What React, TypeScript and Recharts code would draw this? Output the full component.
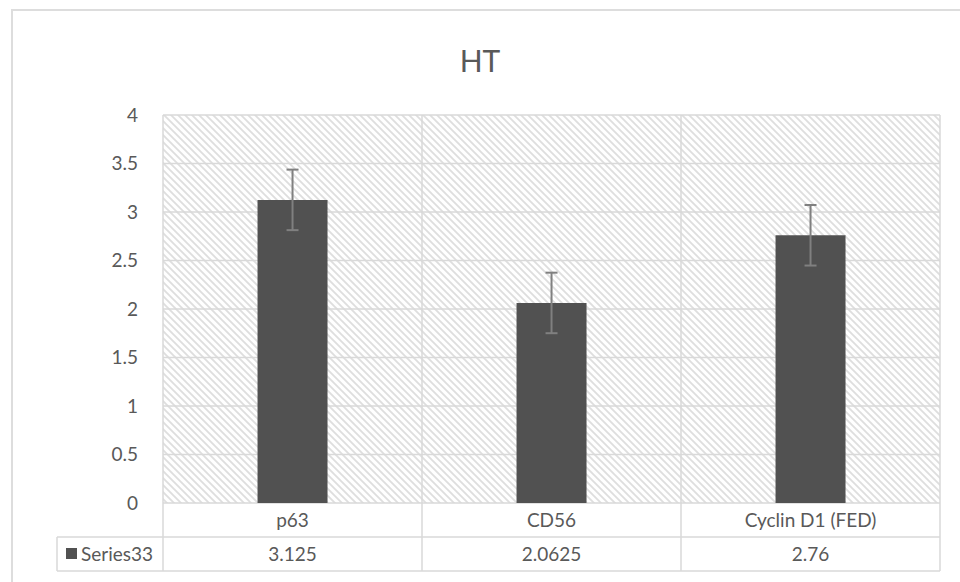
import React from 'react';
import { BarChart, Bar, XAxis, YAxis, CartesianGrid, ErrorBar } from 'recharts';

// ---- data ----
const categories = ['p63', 'CD56', 'Cyclin D1 (FED)'];
const seriesValues = [3.125, 2.0625, 2.76];
const errorValues = [0.312, 0.312, 0.312];
const valueLabels = ['3.125', '2.0625', '2.76'];
const yTicks = [0, 0.5, 1, 1.5, 2, 2.5, 3, 3.5, 4];
const seriesName = 'Series33';
const title = 'HT';

const data = categories.map((c, i) => ({ name: c, value: seriesValues[i], err: errorValues[i], label: valueLabels[i] }));

// ---- layout ----
const W = 960;
const H = 582;
const PLOT_TOP = 115;
const Y_AXIS_W = 60;
const LEFT_MARGIN = 103;
const RIGHT_MARGIN = 20;
const ROW_H = 34;
const X_AXIS_H = ROW_H * 2;
const BOTTOM_MARGIN = 11;
const HEADER_LEFT = 57;
const FONT = 'Lato, "Noto Sans", sans-serif';
const TEXT = '#595959';
const LINE = '#d9d9d9';
const BAR = '#515151';

const TableTick = (props: any) => {
  const { x, y, payload, index, visibleTicksCount } = props;
  const half = payload && payload.offset ? payload.offset : 0;
  const left = x - half;
  const right = x + half;
  const y1 = y + ROW_H;
  const y2 = y1 + ROW_H;
  const top = y - (H - BOTTOM_MARGIN - X_AXIS_H - PLOT_TOP);
  const count = visibleTicksCount ?? categories.length;
  const isLast = index === count - 1;
  const d = data[index] || { label: '' };
  return (
    <g>
      <line x1={left} y1={top} x2={left} y2={y2} stroke={LINE} strokeWidth={1.5} />
      {isLast && <line x1={right} y1={top} x2={right} y2={y2} stroke={LINE} strokeWidth={1.5} />}
      <line x1={left} y1={y1} x2={right} y2={y1} stroke={LINE} strokeWidth={1.5} />
      <line x1={left} y1={y2} x2={right} y2={y2} stroke={LINE} strokeWidth={1.5} />
      {index === 0 && (
        <g>
          <line x1={HEADER_LEFT} y1={y1} x2={left} y2={y1} stroke={LINE} strokeWidth={1.5} />
          <line x1={HEADER_LEFT} y1={y2} x2={left} y2={y2} stroke={LINE} strokeWidth={1.5} />
          <line x1={HEADER_LEFT} y1={y1} x2={HEADER_LEFT} y2={y2} stroke={LINE} strokeWidth={1.5} />
          <rect x={HEADER_LEFT + 9} y={y1 + 11} width={11} height={11} fill={BAR} />
          <text x={HEADER_LEFT + 24} y={y1 + ROW_H / 2} dy="0.35em" fill={TEXT} fontSize={19} fontFamily={FONT}>
            {seriesName}
          </text>
        </g>
      )}
      <text x={x} y={y + ROW_H / 2} dy="0.35em" textAnchor="middle" fill={TEXT} fontSize={19} fontFamily={FONT}>
        {payload.value}
      </text>
      <text x={x} y={y1 + ROW_H / 2} dy="0.35em" textAnchor="middle" fill={TEXT} fontSize={19} fontFamily={FONT}>
        {d.label}
      </text>
    </g>
  );
};

export default function App() {
  return (
    <div style={{ position: 'absolute', left: 0, top: 0, width: W, height: H, overflow: 'hidden', background: '#fff' }}>
      <svg width={0} height={0} style={{ position: 'absolute' }}>
        <defs>
          <pattern id="hatch" patternUnits="userSpaceOnUse" width={7} height={7}>
            <rect x={0} y={0} width={7} height={7} fill="#ffffff" />
            <path d="M-2,5 L2,9 M0,0 L7,7 M5,-2 L9,2" stroke="#dedede" strokeWidth={1.8} />
          </pattern>
        </defs>
      </svg>
      <div
        style={{
          position: 'absolute',
          left: 11,
          top: 9,
          width: W,
          height: H,
          border: '2px solid #dddddd',
          boxSizing: 'border-box',
        }}
      />
      <div
        style={{
          position: 'absolute',
          left: 0,
          top: 42,
          width: W,
          textAlign: 'center',
          fontFamily: FONT,
          fontSize: 30,
          lineHeight: '36px',
          color: TEXT,
        }}
      >
        {title}
      </div>
      <div style={{ position: 'absolute', left: 0, top: 0 }}>
        <BarChart
          width={W}
          height={H}
          data={data}
          margin={{ top: PLOT_TOP, right: RIGHT_MARGIN, left: LEFT_MARGIN, bottom: BOTTOM_MARGIN }}
          barCategoryGap="36.5%"
        >
          <CartesianGrid vertical={false} stroke={LINE} strokeWidth={1.5} fill="url(#hatch)" fillOpacity={1} />
          <YAxis
            type="number"
            domain={[0, 4]}
            ticks={yTicks}
            width={Y_AXIS_W}
            axisLine={false}
            tickLine={false}
            tickSize={0}
            tickMargin={25}
            interval={0}
            tick={{ fill: TEXT, fontSize: 19, fontFamily: FONT }}
          />
          <XAxis
            dataKey="name"
            type="category"
            height={X_AXIS_H}
            axisLine={false}
            tickLine={false}
            tickSize={0}
            tickMargin={0}
            interval={0}
            tick={<TableTick />}
          />
          <Bar dataKey="value" fill={BAR} isAnimationActive={false}>
            <ErrorBar dataKey="err" width={6} strokeWidth={2} stroke="#808080" direction="y" />
          </Bar>
        </BarChart>
      </div>
    </div>
  );
}
